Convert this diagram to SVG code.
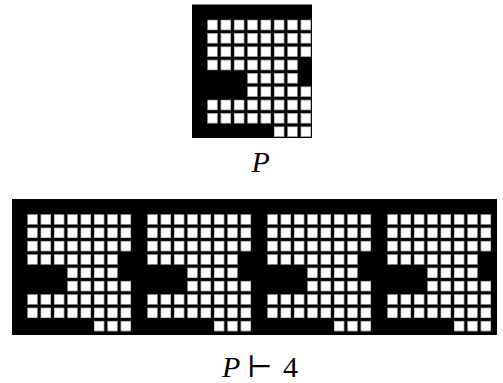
<svg xmlns="http://www.w3.org/2000/svg" width="503" height="383" viewBox="0 0 503 383">
  <style>
    .bg { fill: #000; }
    .edge { fill: #a8a8a8; }
    .core { fill: #fff; }
    .lbl { font-family: "Liberation Serif", "DejaVu Serif", serif; font-size: 30px; fill: #000; }
  </style>
  <defs>
    <g id="cell">
      <rect class="edge" x="1.9" y="1.9" width="10.5" height="10.5"/>
      <rect class="core" x="2.7" y="2.7" width="8.9" height="8.9"/>
    </g>
    <g id="r8">
      <use href="#cell" x="13.3333"/><use href="#cell" x="26.6667"/><use href="#cell" x="40"/><use href="#cell" x="53.3333"/>
      <use href="#cell" x="66.6667"/><use href="#cell" x="80"/><use href="#cell" x="93.3333"/><use href="#cell" x="106.6667"/>
    </g>
    <g id="glyph">
      <use href="#r8" y="13.3333"/>
      <use href="#r8" y="26.6667"/>
      <use href="#r8" y="40"/>
      <use href="#cell" x="13.3333" y="53.3333"/><use href="#cell" x="26.6667" y="53.3333"/><use href="#cell" x="40" y="53.3333"/><use href="#cell" x="53.3333" y="53.3333"/><use href="#cell" x="66.6667" y="53.3333"/><use href="#cell" x="80" y="53.3333"/><use href="#cell" x="93.3333" y="53.3333"/>
      <use href="#cell" x="53.3333" y="66.6667"/><use href="#cell" x="66.6667" y="66.6667"/><use href="#cell" x="80" y="66.6667"/><use href="#cell" x="93.3333" y="66.6667"/>
      <use href="#cell" x="53.3333" y="80"/><use href="#cell" x="66.6667" y="80"/><use href="#cell" x="80" y="80"/><use href="#cell" x="93.3333" y="80"/><use href="#cell" x="106.6667" y="80"/>
      <use href="#r8" y="93.3333"/>
      <use href="#r8" y="106.6667"/>
      <use href="#cell" x="80" y="120"/><use href="#cell" x="93.3333" y="120"/><use href="#cell" x="106.6667" y="120"/>
    </g>
  </defs>

  <g id="pattern-P">
    <rect class="bg" x="192" y="4.5" width="120" height="133.5"/>
    <use href="#glyph" transform="translate(192,4.5)"/>
  </g>
  <g id="label-P">
    <text class="lbl" x="251.5" y="171.5" font-style="italic">P</text>
  </g>

  <g id="repeat-4">
    <rect class="bg" x="12" y="199" width="485" height="136"/>
    <g id="copy-1"><use href="#glyph" transform="translate(12,199)"/></g>
    <g id="copy-2"><use href="#glyph" transform="translate(132,199)"/></g>
    <g id="copy-3"><use href="#glyph" transform="translate(252,199)"/></g>
    <g id="copy-4"><use href="#glyph" transform="translate(372,199)"/></g>
  </g>
  <g id="label-P-4">
    <text class="lbl" y="376.5"><tspan x="222" font-style="italic">P</tspan><tspan x="247">⊢</tspan><tspan x="283">4</tspan></text>
  </g>
</svg>
